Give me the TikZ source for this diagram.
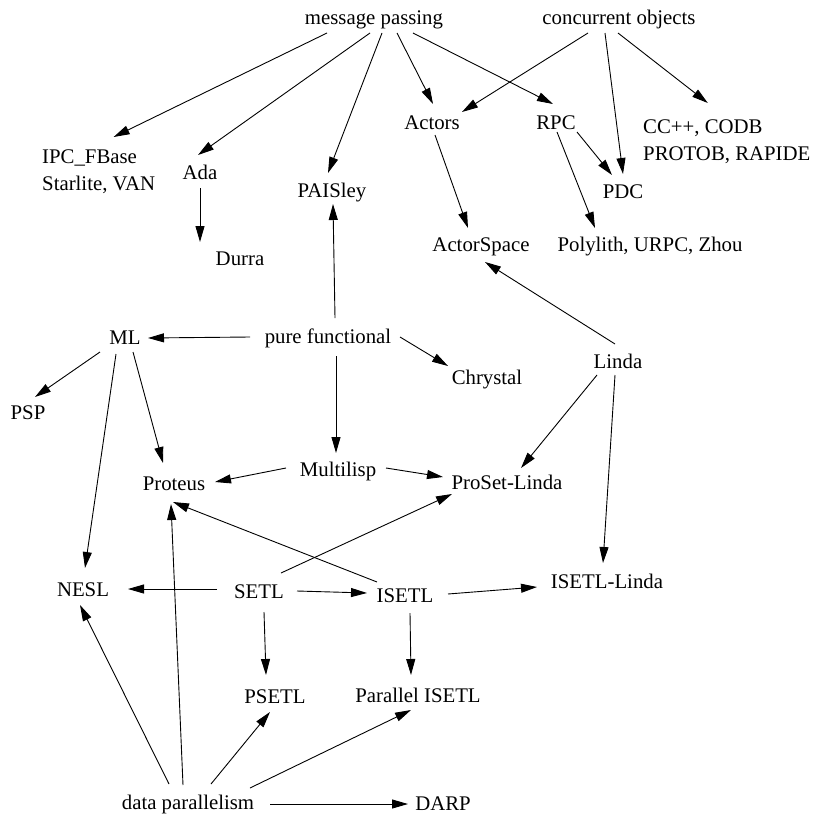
\documentclass[tikz,border=0pt]{standalone}
\usepackage{fontspec}
\setmainfont{Liberation Serif}
\usetikzlibrary{arrows.meta,calc}
\begin{document}
\begin{tikzpicture}[x=1pt,y=-1pt,
  lbl/.style={inner sep=0pt, font=\fontsize{20.8}{27}\selectfont, text height=13.7pt, text depth=0pt},
  multi/.style={inner sep=0pt, font=\fontsize{20.8}{27}\selectfont, align=left, anchor=west},
  arr/.style={line width=0.9pt, -{Triangle[length=16pt,width=9pt]}}]
\path[use as bounding box] (0,0) rectangle (812,814);

% language families and languages
\node[lbl] (mp)    at (374,18)  {message passing};
\node[lbl] (co)    at (619,18)  {concurrent objects};
\node[multi] (ipc) at (42,172)  {IPC\_FBase\\Starlite, VAN};
\node[lbl] (ada)   at (200,173) {Ada};
\node[lbl] (pais)  at (332,191) {PAISley};
\node[lbl] (act)   at (432,123) {Actors};
\node[lbl] (rpc)   at (556,123) {RPC};
\node[multi] (cc)  at (643,142) {CC++, CODB\\PROTOB, RAPIDE};
\node[lbl] (pdc)   at (623,192) {PDC};
\node[lbl] (as)    at (481,245) {ActorSpace};
\node[lbl] (poly)  at (650,245) {Polylith, URPC, Zhou};
\node[lbl] (durra) at (240,259) {Durra};
\node[lbl] (ml)    at (125,338) {ML};
\node[lbl] (pf)    at (328,337) {pure functional};
\node[lbl] (chr)   at (487,378) {Chrystal};
\node[lbl] (linda) at (618,362) {Linda};
\node[lbl] (psp)   at (28,413)  {PSP};
\node[lbl] (mult)  at (338,470) {Multilisp};
\node[lbl] (prot)  at (174,484) {Proteus};
\node[lbl] (pro)   at (507,483) {ProSet-Linda};
\node[lbl] (nesl)  at (83,590)  {NESL};
\node[lbl] (setl)  at (259,592) {SETL};
\node[lbl] (isetl) at (405,596) {ISETL};
\node[lbl] (il)    at (607,582) {ISETL-Linda};
\node[lbl] (psetl) at (275,697) {PSETL};
\node[lbl] (pis)   at (418,696) {Parallel ISETL};
\node[lbl] (dp)    at (188,803) {data parallelism};
\node[lbl] (darp)  at (443,804) {DARP};

% message passing
\draw[arr] ($(mp)+(-47,15)$) -- ($(ipc.center)+(15,-35)$);
\draw[arr] ($(mp)+(-4,15)$)  -- ($(ada)+(-2,-18)$);
\draw[arr] ($(mp)+(8,15)$)   -- ($(pais)+(-4,-18)$);
\draw[arr] ($(mp)+(23,15)$)  -- ($(act)+(1,-19)$);
\draw[arr] ($(mp)+(39,15)$)  -- ($(rpc)+(-3,-19)$);
% concurrent objects
\draw[arr] ($(co)+(-31,15)$) -- ($(act)+(30,-11)$);
\draw[arr] ($(co)+(-14,15)$) -- ($(pdc)+(0,-18)$);
\draw[arr] ($(co)+(-1,15)$)  -- ($(cc.center)+(-19,-39)$);
% RPC, Actors, Ada
\draw[arr] ($(rpc)+(21,9)$)  -- ($(pdc)+(-11,-17)$);
\draw[arr] ($(rpc)+(1,9)$)   -- ($(poly)+(-55,-17)$);
\draw[arr] ($(act)+(3,12)$)  -- ($(as)+(-13,-17)$);
\draw[arr] ($(ada)+(0,15)$)  -- ($(durra)+(-40,-17)$);
% Linda
\draw[arr] ($(linda)+(-3,-18)$) -- ($(as)+(4,17)$);
\draw[arr] ($(linda)+(-21,13)$) -- ($(pro)+(14,-15)$);
\draw[arr] ($(linda)+(-3,13)$)  -- ($(il)+(-4,-19)$);
% pure functional
\draw[arr] ($(pf)+(7,-19)$)  -- ($(pais)+(1,13)$);
\draw[arr] ($(pf)+(-78,0)$)  -- ($(ml)+(23,0)$);
\draw[arr] ($(pf)+(72,0)$)   -- ($(chr)+(-39,-12)$);
\draw[arr] ($(pf)+(8,19)$)   -- ($(mult)+(-2,-17)$);
% ML
\draw[arr] ($(ml)+(-25,14)$) -- ($(psp)+(7,-16)$);
\draw[arr] ($(ml)+(-9,16)$)  -- ($(nesl)+(2,-22)$);
\draw[arr] ($(ml)+(8,14)$)   -- ($(prot)+(-11,-21)$);
% Multilisp
\draw[arr] ($(mult)+(-52,-2)$) -- ($(prot)+(41,-2)$);
\draw[arr] ($(mult)+(48,-2)$)  -- ($(pro)+(-64,-6)$);
% SETL and ISETL
\draw[arr] ($(setl)+(22,-19)$)  -- ($(pro)+(-55,11)$);
\draw[arr] ($(isetl)+(-28,-14)$) -- ($(prot)+(-1,18)$);
\draw[arr] ($(setl)+(-42,-3)$)  -- ($(nesl)+(45,-1)$);
\draw[arr] ($(setl)+(38,-1)$)   -- ($(isetl)+(-38,-3)$);
\draw[arr] ($(isetl)+(43,-2)$)  -- ($(il)+(-70,5)$);
\draw[arr] ($(setl)+(5,20)$)    -- ($(psetl)+(-9,-22)$);
\draw[arr] ($(isetl)+(5,17)$)   -- ($(pis)+(-7,-21)$);
% data parallelism
\draw[arr] ($(dp)+(-19,-19)$) -- ($(nesl)+(-3,15)$);
\draw[arr] ($(dp)+(-5,-18)$)  -- ($(prot)+(-3,20)$);
\draw[arr] ($(dp)+(23,-19)$)  -- ($(psetl)+(-5,15)$);
\draw[arr] ($(dp)+(62,-15)$)  -- ($(pis)+(-7,14)$);
\draw[arr] ($(dp)+(82,1)$)    -- ($(darp)+(-35,0)$);
\end{tikzpicture}
\end{document}
